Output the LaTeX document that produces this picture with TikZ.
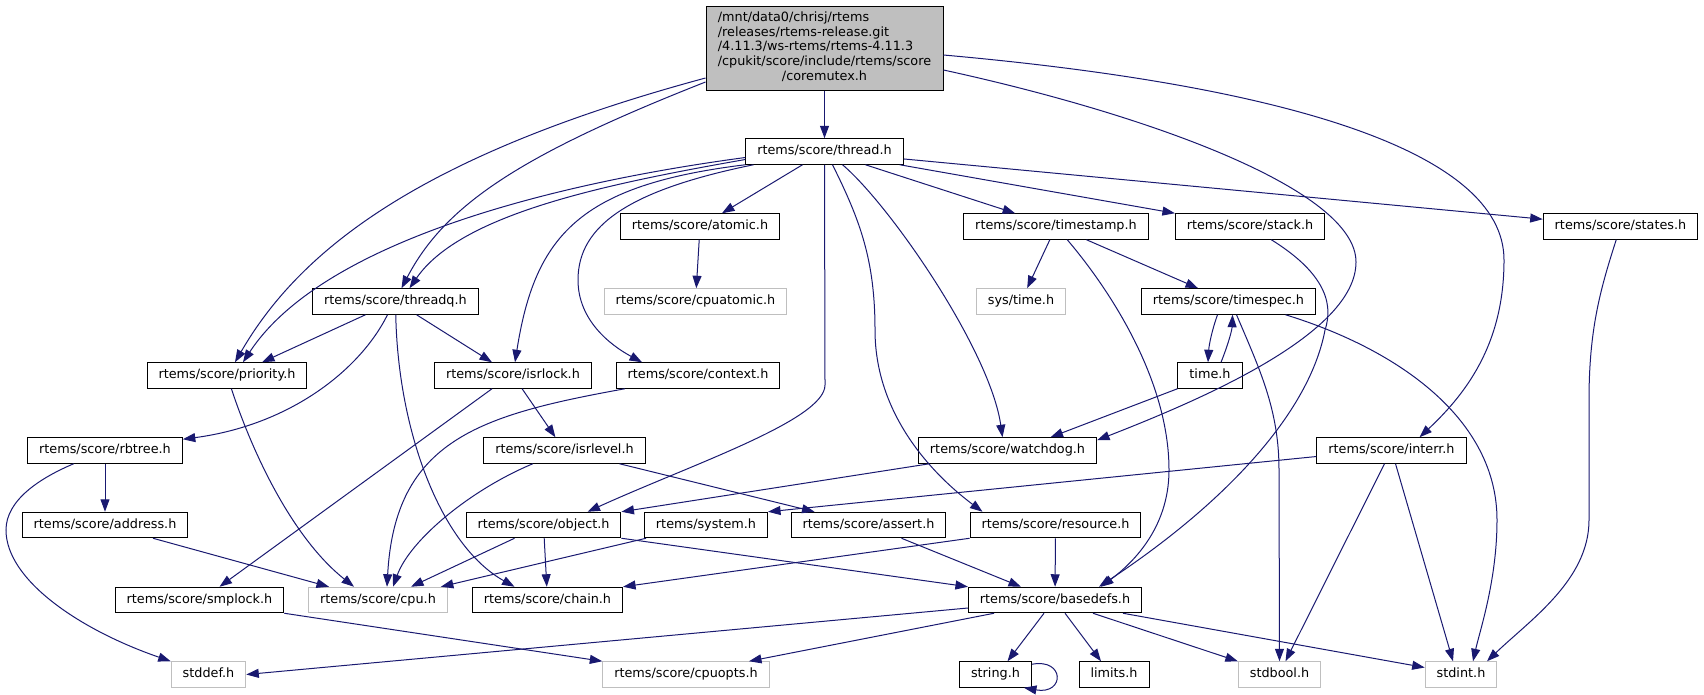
\documentclass[tikz,border=0pt]{standalone}
\usepackage{fontspec}
\setmainfont{DejaVu Sans}
\usetikzlibrary{arrows.meta}
\definecolor{kante}{HTML}{191970}
\definecolor{grau}{HTML}{BFBFBF}

\begin{document}
\begin{tikzpicture}[x=1pt, y=-1pt,
        font=\fontsize{12.8}{14.7}\selectfont,
        >={Triangle[length=12.5pt,width=9pt]}, % Pfeilspitzen
        hdr/.style={draw=black, fill=white, line width=1pt, inner xsep=11.5pt,
            inner ysep=0pt, minimum height=25.5pt, text height=9.6pt, text depth=2.8pt},
        syshdr/.style={hdr, draw=grau},
        mainhdr/.style={draw=black, fill=grau, line width=1pt, inner sep=0pt,
            minimum width=237pt, minimum height=84pt},
        dep/.style={->, draw=kante, line width=1pt}
        ]
    \useasboundingbox (0,0) rectangle (1704,694);

    % Dateien
    \node[mainhdr] (cm) at (824.5,48) {\begin{tabular}{@{}l@{}}
        /mnt/data0/chrisj/rtems\\
        /releases/rtems-release.git\\
        /4.11.3/ws-rtems/rtems-4.11.3\\
        /cpukit/score/include/rtems/score\\
        \multicolumn{1}{@{}c@{}}{/coremutex.h}\end{tabular}};

    \node[hdr]    (thread)    at (824.5,151.5) {rtems/score/thread.h};
    \node[hdr]    (atomic)    at (700,226.5)   {rtems/score/atomic.h};
    \node[hdr]    (timestamp) at (1056,226.5)  {rtems/score/timestamp.h};
    \node[hdr]    (stack)     at (1250,226.5)  {rtems/score/stack.h};
    \node[hdr]    (states)    at (1620.5,226.5){rtems/score/states.h};
    \node[hdr]    (threadq)   at (395.5,301.5) {rtems/score/threadq.h};
    \node[syshdr] (cpuatomic) at (695.5,301.5) {rtems/score/cpuatomic.h};
    \node[syshdr] (systime)   at (1021,301.5)  {sys/time.h};
    \node[hdr]    (timespec)  at (1228.5,301.5){rtems/score/timespec.h};
    \node[hdr]    (priority)  at (227,375.5)   {rtems/score/priority.h};
    \node[hdr]    (isrlock)   at (513,375.5)   {rtems/score/isrlock.h};
    \node[hdr]    (context)   at (698,375.5)   {rtems/score/context.h};
    \node[hdr]    (timeh)     at (1210,375.5)  {time.h};
    \node[hdr]    (rbtree)    at (105,450.5)   {rtems/score/rbtree.h};
    \node[hdr]    (isrlevel)  at (564.5,450.5) {rtems/score/isrlevel.h};
    \node[hdr]    (watchdog)  at (1007.5,450.5){rtems/score/watchdog.h};
    \node[hdr]    (interr)    at (1391.5,450.5){rtems/score/interr.h};
    \node[hdr]    (address)   at (105,525)     {rtems/score/address.h};
    \node[hdr]    (object)    at (543.5,525)   {rtems/score/object.h};
    \node[hdr]    (system)    at (706,525)     {rtems/system.h};
    \node[hdr]    (assert)    at (868.5,525)   {rtems/score/assert.h};
    \node[hdr]    (resource)  at (1055.5,525)  {rtems/score/resource.h};
    \node[hdr]    (smplock)   at (199.5,600)   {rtems/score/smplock.h};
    \node[syshdr] (cpu)       at (378,600)     {rtems/score/cpu.h};
    \node[hdr]    (chain)     at (547.5,600)   {rtems/score/chain.h};
    \node[hdr]    (basedefs)  at (1055,600)    {rtems/score/basedefs.h};
    \node[syshdr] (stddef)    at (208.5,674.5) {stddef.h};
    \node[syshdr] (cpuopts)   at (686,674.5)   {rtems/score/cpuopts.h};
    \node[hdr]    (string)    at (995.5,674.5) {string.h};
    \node[hdr]    (limits)    at (1114,674.5)  {limits.h};
    \node[syshdr] (stdbool)   at (1279.5,674.5){stdbool.h};
    \node[syshdr] (stdint)    at (1461,674.5)  {stdint.h};

    % Abhaengigkeiten coremutex.h
    \draw[dep] (cm) -- (thread);
    \draw[dep] ([yshift=-30pt]cm.west) .. controls (420,155) and (300,250) .. ([xshift=8pt]priority.north);
    \draw[dep] ([yshift=-34pt]cm.west) .. controls (520,155) and (445,205) .. ([xshift=6pt]threadq.north);
    \draw[dep] ([yshift=-22pt]cm.east) .. controls (1150,115) and (1356,190) .. (1356,262)
               .. controls (1356,334) and (1200,400) .. ([yshift=-3pt]watchdog.north east);
    \draw[dep] ([yshift=-7pt]cm.east) .. controls (1280,85) and (1504,150) .. (1504,260)
               .. controls (1504,340) and (1470,390) .. ([xshift=28pt]interr.north);

    % thread.h
    \draw[dep] (thread) -- (atomic);
    \draw[dep] (thread) -- (timestamp);
    \draw[dep] (thread) -- (stack);
    \draw[dep] (thread) -- (states);
    \draw[dep] ([yshift=-6pt]thread.west) .. controls (540,185) and (320,245) .. ([xshift=16pt]priority.north);
    \draw[dep] ([yshift=-8pt]thread.west) .. controls (600,185) and (460,215) .. ([xshift=14pt]threadq.north);
    \draw[dep] (thread.south west) .. controls (580,185) and (535,235) .. ([xshift=2pt]isrlock.north);
    \draw[dep] ([xshift=-71pt]thread.south) .. controls (630,190) and (578,225) .. (578,280)
               .. controls (578,320) and (610,345) .. ([xshift=-56pt]context.north);
    \draw[dep] (thread.south) -- (825,385) .. controls (825,420) and (690,465) .. ([xshift=44pt]object.north);
    \draw[dep] ([xshift=8pt]thread.south) .. controls (860,220) and (875,260) .. (875,330)
               .. controls (875,420) and (940,480) .. ([xshift=-73pt]resource.north);
    \draw[dep] ([xshift=18pt]thread.south) .. controls (890,205) and (990,350) .. ([xshift=-5pt]watchdog.north);

    % weitere
    \draw[dep] (atomic) -- (cpuatomic);
    \draw[dep] (timestamp) -- (systime);
    \draw[dep] (timestamp) -- (timespec);
    \draw[dep] (timestamp) .. controls (1110,290) and (1169,380) .. (1169,470)
               .. controls (1169,530) and (1130,565) .. ([xshift=46pt]basedefs.north);
    \draw[dep] (stack) .. controls (1320,270) and (1335,300) .. (1325,330)
               .. controls (1310,410) and (1230,500) .. ([xshift=44pt]basedefs.north);
    \draw[dep] (states) .. controls (1600,290) and (1589,330) .. (1589,400) -- (1589,520)
               .. controls (1589,580) and (1530,620) .. ([xshift=26pt]stdint.north);

    \draw[dep] ([xshift=-30pt]threadq.south) -- ([xshift=35pt]priority.north);
    \draw[dep] (threadq) -- (isrlock);
    \draw[dep] ([xshift=-8pt]threadq.south) .. controls (360,370) and (290,425) .. ([yshift=-2pt]rbtree.north east);
    \draw[dep] (threadq) .. controls (398,430) and (440,545) .. ([xshift=-33pt]chain.north);
    \draw[dep] (priority) .. controls (255,460) and (295,540) .. ([xshift=-24pt]cpu.north);
    \draw[dep] ([xshift=-21pt]isrlock.south) -- ([xshift=20pt]smplock.north);
    \draw[dep] (isrlock) -- (isrlevel);
    \draw[dep] (context) .. controls (480,415) and (395,440) .. ([xshift=9pt]cpu.north);
    \draw[dep] (isrlevel) .. controls (470,490) and (410,540) .. ([xshift=15pt]cpu.north);
    \draw[dep] ([xshift=55pt]isrlevel.south) -- ([xshift=-54pt]assert.north);
    \draw[dep] (rbtree) -- (address);
    \draw[dep] (rbtree) .. controls (40,478) and (6,500) .. (6,530)
               .. controls (6,580) and (80,630) .. (stddef.north west);
    \draw[dep] ([xshift=48pt]address.south) -- ([xshift=-49pt]cpu.north);
    \draw[dep] ([xshift=-78pt]watchdog.south) -- (object.north east);
    \draw[dep] ([yshift=-6pt]interr.west) -- (system.north east);
    \draw[dep] ([xshift=-7pt]interr.south) -- ([xshift=6pt]stdbool.north);
    \draw[dep] ([xshift=4pt]interr.south) -- ([xshift=-8pt]stdint.north);
    \draw[dep] ([xshift=-29pt]object.south) -- ([xshift=33pt]cpu.north);
    \draw[dep] (object) -- (chain);
    \draw[dep] (object.south east) -- (basedefs.north west);
    \draw[dep] ([xshift=-60pt]system.south) -- ([xshift=-7pt]cpu.north east);
    \draw[dep] ([xshift=33pt]assert.south) -- ([xshift=-34pt]basedefs.north);
    \draw[dep] (resource.south west) -- (chain.north east);
    \draw[dep] (resource) -- (basedefs);
    \draw[dep] ([xshift=-11pt]timespec.south) .. controls (1212,330) and (1209,345) .. ([xshift=-2pt]timeh.north);
    \draw[dep] ([xshift=11pt]timeh.north) .. controls (1228,345) and (1232,330) .. ([xshift=4pt]timespec.south);
    \draw[dep] (timeh.south west) -- ([xshift=43pt]watchdog.north);
    \draw[dep] ([xshift=8pt]timespec.south) .. controls (1260,370) and (1279,410) .. (1279,470) -- (stdbool.north);
    \draw[dep] ([xshift=57pt]timespec.south) .. controls (1400,350) and (1497,420) .. (1497,520)
               .. controls (1497,580) and (1480,630) .. ([xshift=12pt]stdint.north);

    % basedefs.h
    \draw[dep] ([yshift=-8pt]basedefs.west) -- (stddef.east);
    \draw[dep] ([xshift=-61pt]basedefs.south) -- ([xshift=63pt]cpuopts.north);
    \draw[dep] ([xshift=-11pt]basedefs.south) -- ([xshift=12pt]string.north);
    \draw[dep] ([xshift=10pt]basedefs.south) -- ([xshift=-13pt]limits.north);
    \draw[dep] ([xshift=38pt]basedefs.south) -- (stdbool.north west);
    \draw[dep] ([xshift=68pt]basedefs.south) -- ([yshift=7pt]stdint.west);
    \draw[dep] ([yshift=-3pt]string.north east) .. controls (1065,658) and (1065,695) .. ([xshift=-8pt]string.south east);
    \draw[dep] (smplock.south east) -- (cpuopts.north west);

\end{tikzpicture}
\end{document}
